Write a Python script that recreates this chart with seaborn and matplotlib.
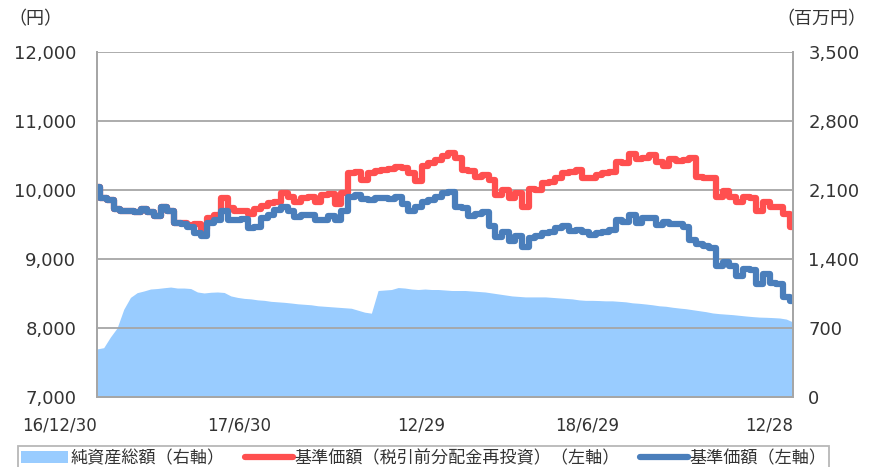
import numpy as np
import pandas as pd
import matplotlib
matplotlib.use("Agg")
import matplotlib.pyplot as plt
from matplotlib.patches import Patch
from matplotlib.lines import Line2D
import seaborn as sns

# weekly readings, 2016/12/30 .. 2018/12/28
nav = [10050, 9890, 9860, 9720, 9700, 9690, 9680, 9730, 9680, 9620,
       9760, 9700, 9520, 9500, 9460, 9380, 9340, 9520, 9560, 9700,
       9560, 9560, 9580, 9450, 9460, 9590, 9640, 9710, 9750, 9700,
       9610, 9640, 9640, 9560, 9570, 9620, 9560, 9700, 9900, 9930,
       9870, 9860, 9880, 9880, 9870, 9900, 9790, 9700, 9760, 9820,
       9860, 9900, 9960, 9970, 9760, 9740, 9620, 9650, 9680, 9480,
       9320, 9390, 9260, 9330, 9180, 9300, 9330, 9380, 9390, 9450,
       9480, 9400, 9420, 9390, 9350, 9370, 9390, 9420, 9560, 9530,
       9630, 9520, 9600, 9600, 9490, 9540, 9500, 9500, 9470, 9270,
       9220, 9190, 9160, 8900, 8950, 8900, 8760, 8850, 8840, 8640,
       8780, 8650, 8630, 8450, 8390]

nav_reinv = [10050, 9890, 9860, 9720, 9700, 9690, 9680, 9730, 9680, 9620,
             9760, 9700, 9520, 9520, 9490, 9510, 9440, 9600, 9640, 9880,
             9740, 9700, 9700, 9650, 9720, 9770, 9810, 9830, 9960, 9900,
             9830, 9880, 9900, 9830, 9920, 9940, 9800, 9950, 10240, 10260,
             10150, 10250, 10280, 10290, 10310, 10330, 10320, 10250, 10130, 10350,
             10390, 10440, 10490, 10530, 10460, 10290, 10270, 10190, 10210, 10150,
             9930, 10000, 9880, 9960, 9760, 10020, 10000, 10100, 10110, 10170,
             10240, 10260, 10290, 10180, 10180, 10210, 10250, 10260, 10400, 10390,
             10520, 10450, 10470, 10500, 10400, 10350, 10450, 10420, 10440, 10460,
             10190, 10180, 10170, 9900, 9980, 9900, 9820, 9900, 9880, 9690,
             9830, 9760, 9750, 9650, 9460]

net_assets = [487, 500, 608, 700, 890, 1010, 1058, 1075, 1095, 1100,
              1108, 1115, 1105, 1105, 1100, 1065, 1055, 1062, 1065, 1060,
              1025, 1010, 1000, 995, 985, 980, 970, 965, 960, 953,
              945, 940, 935, 925, 920, 915, 910, 905, 900, 880,
              860, 850, 1080, 1085, 1090, 1110, 1105, 1095, 1090, 1095,
              1090, 1090, 1085, 1080, 1080, 1080, 1075, 1070, 1065, 1055,
              1045, 1035, 1025, 1020, 1015, 1015, 1015, 1015, 1010, 1005,
              1000, 995, 985, 980, 980, 978, 975, 975, 970, 965,
              955, 950, 943, 935, 925, 920, 910, 902, 895, 885,
              875, 865, 852, 845, 840, 835, 828, 821, 815, 810,
              808, 805, 801, 790, 760]

tick_weeks = [0, 26, 52, 78, 104]
tick_labels = ["16/12/30", "17/6/30", "12/29", "18/6/29", "12/28"]

df = pd.DataFrame({"week": np.arange(len(nav)), "nav": nav,
                   "reinv": nav_reinv, "assets": net_assets})

c_area = "#99CCFF"
c_red = "#FF4F4F"
c_blue = "#4A7EBB"
grid_c = "#A6A6A6"
jp = ["Noto Sans CJK JP", "DejaVu Sans"]

sns.set_style("white")
plt.rcParams["font.family"] = ["DejaVu Sans", "Noto Sans CJK JP"]

fig, ax = plt.subplots(figsize=(8.7, 4.67), dpi=100)
fig.subplots_adjust(left=0.1115, right=0.9115, top=0.8887, bottom=0.15)
ax2 = ax.twinx()

ax2.fill_between(df["week"], df["assets"], 0, color=c_area, linewidth=0)
ax2.set_ylim(0, 3500)
ax2.set_yticks(range(0, 3501, 700))
ax2.set_yticklabels([f"{v:,}" for v in range(0, 3501, 700)])

ax.set_zorder(ax2.get_zorder() + 1)
ax.patch.set_visible(False)

sns.lineplot(data=df, x="week", y="reinv", ax=ax, color=c_red, linewidth=4.5,
             drawstyle="steps-mid")
sns.lineplot(data=df, x="week", y="nav", ax=ax, color=c_blue, linewidth=4.5,
             drawstyle="steps-mid")

ax.set_ylim(7000, 12000)
ax.set_yticks(range(7000, 12001, 1000))
ax.set_yticklabels([f"{v:,}" for v in range(7000, 12001, 1000)])
ax.set_xlim(0, 104)
ax.set_xticks(tick_weeks)
ax.set_xticklabels(tick_labels, ha="right")
ax.set_xlabel("")
ax.set_ylabel("")
ax.grid(axis="y", color=grid_c, linewidth=1.3)
ax2.grid(False)

for a in (ax, ax2):
    for s in a.spines.values():
        s.set_color(grid_c)
        s.set_linewidth(1.3)
    a.spines["top"].set_visible(False)

ax.tick_params(axis="y", labelsize=13, pad=15, length=0, colors="#333333")
ax2.tick_params(axis="y", labelsize=13, pad=11, length=0, colors="#333333")
ax.tick_params(axis="x", labelsize=12, pad=14, direction="in", length=6,
               color=grid_c, labelcolor="#333333")

fig.text(0.041, 0.958, "（円）", fontsize=13, family=jp, ha="center", va="center", color="#333333")
fig.text(0.944, 0.958, "（百万円）", fontsize=13, family=jp, ha="center", va="center", color="#333333")

handles = [Patch(facecolor=c_area, edgecolor="none"),
           Line2D([], [], color=c_red, linewidth=4.5),
           Line2D([], [], color=c_blue, linewidth=4.5)]
labels = ["純資産総額（右軸）", "基準価額（税引前分配金再投資）（左軸）", "基準価額（左軸）"]
leg = fig.legend(handles, labels, loc="upper center", bbox_to_anchor=(0.487, 0.044),
                 ncol=3, frameon=True, fancybox=False, prop={"family": jp, "size": 12.3},
                 handlelength=2.8, handletextpad=0.1, columnspacing=1.2,
                 borderpad=0.15, borderaxespad=0, labelcolor="#333333")
leg.get_frame().set_edgecolor(grid_c)
leg.get_frame().set_linewidth(1.3)

fig.savefig("out.png", dpi=100)
